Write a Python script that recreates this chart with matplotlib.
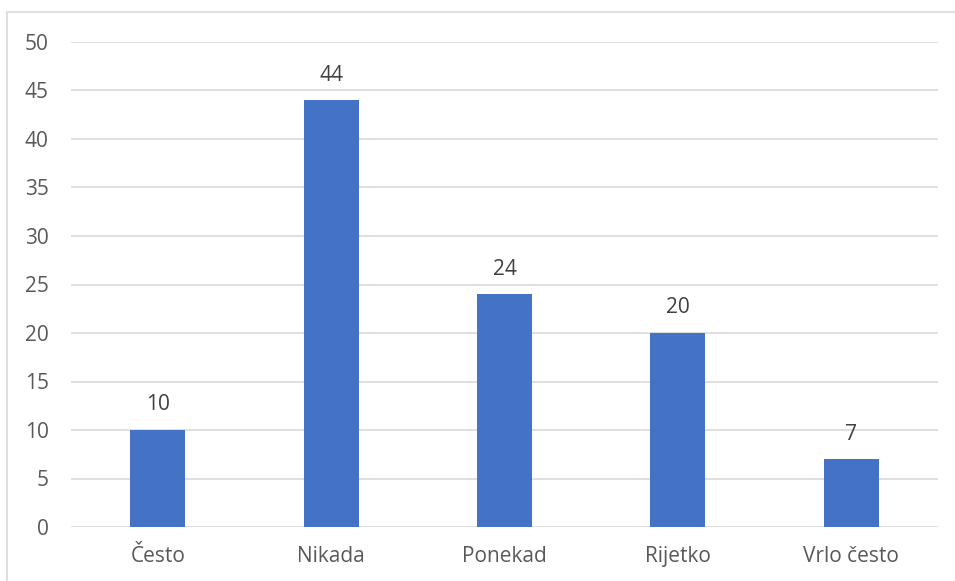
import matplotlib.pyplot as plt
from matplotlib.patches import Rectangle

categories = ['Često', 'Nikada', 'Ponekad', 'Rijetko', 'Vrlo često']
values = [10, 44, 24, 20, 7]
yticks = [0, 5, 10, 15, 20, 25, 30, 35, 40, 45, 50]

W, H = 955, 581
fig = plt.figure(figsize=(W / 100, H / 100), dpi=100)
plt.rcParams['font.family'] = ['Open Sans', 'DejaVu Sans']

# plot area: x 71..938, y 42..527 (pixels from top)
ax = fig.add_axes([71 / W, 1 - 527 / H, (938 - 71) / W, (527 - 42) / H])

x = range(len(categories))
bars = ax.bar(x, values, width=0.317, color='#4472c4', zorder=3)
ax.set_xlim(-0.5, len(categories) - 0.5)
ax.set_ylim(0, 50)
ax.set_yticks(yticks)
ax.set_xticks(list(x))
ax.set_xticklabels(categories)

ax.grid(axis='y', color='#d9d9d9', linewidth=1.2, zorder=0)
for s in ax.spines.values():
    s.set_visible(False)
ax.tick_params(length=0, labelsize=15, colors='#595959')
ax.tick_params(axis='x', pad=14)
ax.tick_params(axis='y', pad=16)

for b, v in zip(bars, values):
    ax.text(b.get_x() + b.get_width() / 2, v + 1.5, str(v), ha='center', va='bottom',
            fontsize=15, color='#404040')

# outer chart border (only top and left visible in the crop)
fig.patches.append(Rectangle((7 / W, -0.1), 1.2, 1 - 12 / H + 0.1, transform=fig.transFigure,
                             fill=False, edgecolor='#d9d9d9', linewidth=1.2))

fig.savefig('out.png', dpi=100)
